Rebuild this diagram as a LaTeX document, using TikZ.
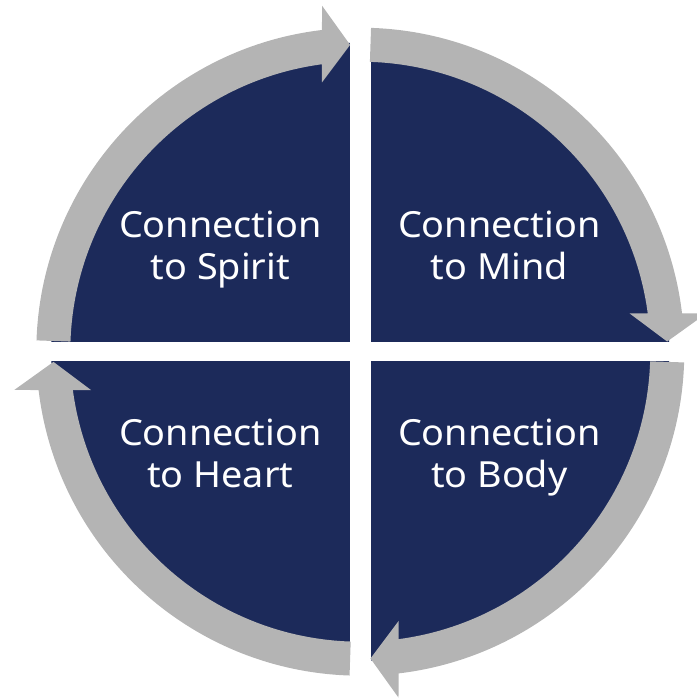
\documentclass[tikz,border=0pt]{standalone}
\usepackage{fontspec}
\setmainfont[FakeStretch=1.05]{Noto Sans}
\definecolor{navy}{RGB}{28,42,90}
\definecolor{ringgray}{RGB}{180,180,180}
% Gray ring segment running clockwise from angle #1 to an arrowhead whose tip sits at angle #2
\newcommand\ringarrow[2]{%
  \fill[ringgray] (#1:324) arc[start angle=#1, end angle=#2+4.9, radius=324]
    -- (#2+4.4:348) -- (#2:307) -- (#2+6.2:272) -- (#2+5.7:290)
    arc[start angle=#2+5.7, end angle=#1, radius=290] -- cycle;}
\tikzset{
  label/.style={text=white, align=center, anchor=north,
    font=\fontsize{36}{42}\selectfont, inner sep=0pt}
}
\begin{document}
\begin{tikzpicture}[x=1pt,y=1pt]
\useasboundingbox (-360.3,-346.3) rectangle (335.7,351.7);
% four dark quadrants of the disc, separated by a white cross
\begin{scope}
  \clip (0,0) circle (309);
  \fill[navy] (-10.3,9.5) rectangle (-400,400);
  \fill[navy] (10.3,9.5) rectangle (400,400);
  \fill[navy] (-10.3,-9.5) rectangle (-400,-400);
  \fill[navy] (10.3,-9.5) rectangle (400,-400);
\end{scope}
% clockwise gray arrows around the rim
\ringarrow{178}{91.9}
\ringarrow{88.1}{1.9}
\ringarrow{-1.9}{-88.1}
\ringarrow{-91.9}{-178.1}
% quadrant labels
\node[label] (spirit) at (-140,141) {Connection\\to Spirit};
\node[label] (mind)   at (139,141)  {Connection\\to Mind};
\node[label] (heart)  at (-140,-67) {Connection\\to Heart};
\node[label] (body)   at (139,-67)  {Connection\\to Body};
\end{tikzpicture}
\end{document}
